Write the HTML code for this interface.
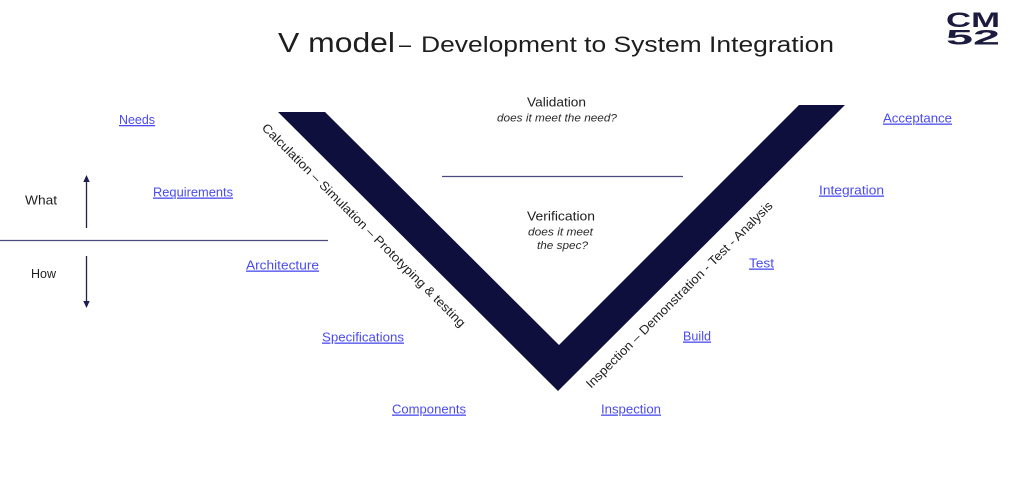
<!DOCTYPE html>
<html>
<head>
<meta charset="utf-8">
<style>
  html, body { margin: 0; padding: 0; background: #ffffff; }
  body { width: 1024px; height: 488px; overflow: hidden; }
  svg { display: block; }
  .t { font-family: "Liberation Sans", "DejaVu Sans", sans-serif; fill: #1e1e1e; }
  .lk { font-family: "Liberation Sans", "DejaVu Sans", sans-serif; fill: #4b4bef; font-size: 13px; text-decoration: underline; }
  .it { font-family: "Liberation Sans", "DejaVu Sans", sans-serif; fill: #2a2a2a; font-size: 11px; font-style: italic; }
</style>
</head>
<body>
<svg width="1024" height="488" viewBox="0 0 1024 488" xmlns="http://www.w3.org/2000/svg">
  <!-- Title -->
  <text class="t" x="278" y="52" font-size="28" textLength="117" lengthAdjust="spacingAndGlyphs">V model</text>
  <text class="t" x="399" y="52" font-size="22" textLength="12" lengthAdjust="spacingAndGlyphs">–</text>
  <text class="t" x="421" y="52" font-size="22.5" textLength="413" lengthAdjust="spacingAndGlyphs">Development to System Integration</text>

  <!-- Logo -->
  <text x="946" y="27" font-family="Liberation Sans, DejaVu Sans, sans-serif" font-weight="bold" font-size="21" fill="#1b1b3f" textLength="54" lengthAdjust="spacingAndGlyphs">CM</text>
  <text x="946" y="44.5" font-family="Liberation Sans, DejaVu Sans, sans-serif" font-weight="bold" font-size="21" fill="#1b1b3f" textLength="54" lengthAdjust="spacingAndGlyphs">52</text>

  <!-- V shape -->
  <polygon points="278,112 325,112 559,345 799,105 845,105 558,391" fill="#0f0f3d"/>

  <!-- Horizontal divider left -->
  <line x1="0" y1="240.5" x2="328" y2="240.5" stroke="#4a4a7c" stroke-width="1.2"/>
  <!-- Validation divider -->
  <line x1="442" y1="176.5" x2="683" y2="176.5" stroke="#4a4a7c" stroke-width="1.2"/>

  <!-- Arrows -->
  <line x1="86.5" y1="181" x2="86.5" y2="228" stroke="#1f1f4f" stroke-width="1.3"/>
  <polygon points="86.5,175 83.3,182 89.7,182" fill="#1f1f4f"/>
  <line x1="86.5" y1="256" x2="86.5" y2="302" stroke="#1f1f4f" stroke-width="1.3"/>
  <polygon points="86.5,308 83.3,301 89.7,301" fill="#1f1f4f"/>

  <!-- What / How -->
  <text class="t" x="25" y="204.5" font-size="13" textLength="32" lengthAdjust="spacingAndGlyphs">What</text>
  <text class="t" x="31" y="278" font-size="13" textLength="25" lengthAdjust="spacingAndGlyphs">How</text>

  <!-- Left labels -->
  <text class="lk" x="119" y="124" textLength="36" lengthAdjust="spacingAndGlyphs">Needs</text>
  <text class="lk" x="153" y="196.5" textLength="80" lengthAdjust="spacingAndGlyphs">Requirements</text>
  <text class="lk" x="246" y="269.5" textLength="73" lengthAdjust="spacingAndGlyphs">Architecture</text>
  <text class="lk" x="322" y="341.5" textLength="82" lengthAdjust="spacingAndGlyphs">Specifications</text>
  <text class="lk" x="392" y="413.5" textLength="74" lengthAdjust="spacingAndGlyphs">Components</text>

  <!-- Right labels -->
  <text class="lk" x="601" y="413.5" textLength="60" lengthAdjust="spacingAndGlyphs">Inspection</text>
  <text class="lk" x="683" y="340.5" textLength="28" lengthAdjust="spacingAndGlyphs">Build</text>
  <text class="lk" x="749" y="267.5" textLength="25" lengthAdjust="spacingAndGlyphs">Test</text>
  <text class="lk" x="819" y="194.5" textLength="65" lengthAdjust="spacingAndGlyphs">Integration</text>
  <text class="lk" x="883" y="122.5" textLength="69" lengthAdjust="spacingAndGlyphs">Acceptance</text>

  <!-- Validation / Verification -->
  <text class="t" x="527" y="106.5" font-size="13" textLength="59" lengthAdjust="spacingAndGlyphs">Validation</text>
  <text class="it" x="497" y="121.5" textLength="120" lengthAdjust="spacingAndGlyphs">does it meet the need?</text>
  <text class="t" x="527" y="220.5" font-size="13" textLength="68" lengthAdjust="spacingAndGlyphs">Verification</text>
  <text class="it" x="528" y="235.5" textLength="65" lengthAdjust="spacingAndGlyphs">does it meet</text>
  <text class="it" x="537" y="249" textLength="51" lengthAdjust="spacingAndGlyphs">the spec?</text>

  <!-- Rotated arm texts -->
  <g transform="translate(364,225) rotate(45)">
    <text class="t" x="0" y="4.5" font-size="12.5" text-anchor="middle" textLength="282" lengthAdjust="spacingAndGlyphs">Calculation – Simulation – Prototyping &amp; testing</text>
  </g>
  <g transform="translate(679,294.5) rotate(-45)">
    <text class="t" x="0" y="4.5" font-size="12.5" text-anchor="middle" textLength="258" lengthAdjust="spacingAndGlyphs">Inspection – Demonstration - Test - Analysis</text>
  </g>
</svg>
</body>
</html>
